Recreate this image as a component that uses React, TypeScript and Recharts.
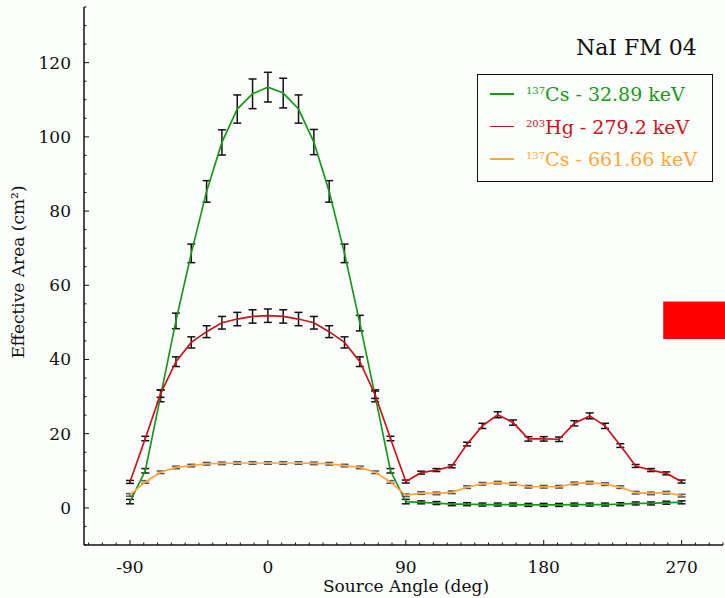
import React from 'react'
import {
  LineChart,
  Line,
  XAxis,
  YAxis,
  ErrorBar,
  ReferenceArea,
} from 'recharts'

// source angle (deg), one point every 10 deg
const angles = [
  -90, -80, -70, -60, -50, -40, -30, -20, -10, 0, 10, 20, 30, 40, 50, 60, 70, 80, 90,
  100, 110, 120, 130, 140, 150, 160, 170, 180, 190, 200, 210, 220, 230, 240, 250, 260, 270,
]

// 137Cs - 32.89 keV
const cs32 = [
  1.7, 10.0, 30.2, 50.4, 68.6, 85.3, 98.5, 107.5, 111.6, 113.4, 111.8, 107.5, 98.6, 85.3, 68.6, 49.8, 30.2, 10.0, 1.7,
  1.5, 1.3, 1.0, 1.0, 0.9, 0.9, 0.9, 0.8, 0.8, 0.8, 0.9, 0.9, 0.9, 1.0, 1.2, 1.2, 1.4, 1.5,
]
const cs32Err = [
  0.6, 0.6, 1.6, 2.1, 2.5, 2.9, 3.4, 3.8, 4.0, 4.0, 4.0, 3.8, 3.4, 2.9, 2.5, 2.1, 1.6, 0.6, 0.6,
  0.4, 0.4, 0.4, 0.4, 0.4, 0.4, 0.4, 0.4, 0.4, 0.4, 0.4, 0.4, 0.4, 0.4, 0.4, 0.4, 0.4, 0.4,
]

// 203Hg - 279.2 keV
const hg279 = [
  7.0, 18.7, 30.8, 39.4, 44.6, 47.5, 49.9, 50.9, 51.6, 51.8, 51.6, 50.9, 49.9, 47.5, 44.6, 39.4, 30.5, 18.7, 7.1,
  9.5, 10.2, 11.2, 17.2, 22.1, 25.1, 23.0, 18.6, 18.6, 18.5, 22.8, 24.8, 22.1, 16.8, 11.3, 10.2, 9.3, 7.1,
]
const hg279Err = [
  0.4, 0.6, 1.0, 1.3, 1.5, 1.6, 1.7, 1.8, 1.8, 1.8, 1.8, 1.8, 1.7, 1.6, 1.5, 1.3, 1.0, 0.6, 0.4,
  0.4, 0.4, 0.4, 0.5, 0.7, 0.8, 0.7, 0.6, 0.6, 0.6, 0.7, 0.8, 0.7, 0.5, 0.4, 0.4, 0.4, 0.4,
]

// 137Cs - 661.66 keV
const cs661 = [
  3.5, 7.0, 9.6, 10.9, 11.4, 11.9, 12.0, 12.1, 12.1, 12.1, 12.1, 12.1, 12.0, 11.9, 11.4, 10.9, 9.6, 7.0, 3.4,
  4.0, 3.9, 4.2, 5.6, 6.5, 6.8, 6.5, 5.7, 5.7, 5.7, 6.6, 6.8, 6.4, 5.6, 4.1, 3.9, 4.1, 3.3,
]
const cs661Err = [
  0.35, 0.35, 0.35, 0.35, 0.35, 0.35, 0.35, 0.35, 0.35, 0.35, 0.35, 0.35, 0.35, 0.35, 0.35, 0.35, 0.35, 0.35, 0.35,
  0.35, 0.35, 0.35, 0.35, 0.35, 0.35, 0.35, 0.35, 0.35, 0.35, 0.35, 0.35, 0.35, 0.35, 0.35, 0.35, 0.35, 0.35,
]

const xMajor = [-90, 0, 90, 180, 270]
const yMajor = [0, 20, 40, 60, 80, 100, 120]

const legendIso = ['137', '203', '137']
const legendEl = ['Cs', 'Hg', 'Cs']
const legendEnergy = ['32.89 keV', '279.2 keV', '661.66 keV']
const colors = ['#1c961c', '#c8141c', '#ffa53f']

const xTicks = Array.from({ length: 47 }, (_, i) => -117 + i * 9)
const yTicks = Array.from({ length: 30 }, (_, i) => -10 + i * 5)

const data = angles.map((a, i) => ({
  angle: a,
  cs32: cs32[i],
  cs32Err: cs32Err[i],
  hg279: hg279[i],
  hg279Err: hg279Err[i],
  cs661: cs661[i],
  cs661Err: cs661Err[i],
}))

const FONT = "'DejaVu Serif', serif"

const BottomTick = (props: any) => {
  const { x, y, payload } = props
  const major = xMajor.includes(payload.value)
  return (
    <g>
      <line x1={x} x2={x} y1={y} y2={y - (major ? 5 : 2.5)} stroke="#111" strokeWidth={1} />
      {major && (
        <text x={x} y={y + 28} textAnchor="middle" fontFamily={FONT} fontSize={17} fill="#111">
          {payload.value}
        </text>
      )}
    </g>
  )
}

const TopTick = (props: any) => {
  const { x, y, payload } = props
  const major = xMajor.includes(payload.value)
  return <line x1={x} x2={x} y1={y} y2={y + (major ? 5 : 2.5)} stroke="#111" strokeWidth={1} />
}

const LeftTick = (props: any) => {
  const { x, y, payload } = props
  const major = yMajor.includes(payload.value)
  return (
    <g>
      <line x1={x} x2={x + (major ? 5 : 2.5)} y1={y} y2={y} stroke="#111" strokeWidth={1} />
      {major && (
        <text x={x - 13} y={y + 6} textAnchor="end" fontFamily={FONT} fontSize={17} fill="#111">
          {payload.value}
        </text>
      )}
    </g>
  )
}

const RightTick = (props: any) => {
  const { x, y } = props
  return <line x1={x} x2={x - 5} y1={y} y2={y} stroke="#111" strokeWidth={1} />
}

const LegendBox = () => (
  <div
    style={{
      position: 'absolute',
      left: 477,
      top: 74,
      width: 236,
      height: 108,
      border: '1.5px solid #111',
      boxSizing: 'border-box',
      background: '#fcfefc',
      fontFamily: FONT,
    }}
  >
    {legendEl.map((el, i) => (
      <div
        key={i}
        style={{
          position: 'absolute',
          left: 0,
          top: 7 + i * 32.5,
          height: 24,
          display: 'flex',
          alignItems: 'center',
          whiteSpace: 'nowrap',
          color: colors[i],
        }}
      >
        <span style={{ display: 'inline-block', marginLeft: 12, width: 24, height: 1.3, background: colors[i] }} />
        <span style={{ marginLeft: 12, fontSize: 19 }}>
          <sup style={{ fontSize: 10, verticalAlign: 7 }}>{legendIso[i]}</sup>
          {el} - {legendEnergy[i]}
        </span>
      </div>
    ))}
  </div>
)

export default function App() {
  return (
    <div
      style={{
        position: 'absolute',
        left: 0,
        top: 0,
        width: 725,
        height: 598,
        background: '#fcfefc',
        overflow: 'hidden',
      }}
    >
      <LineChart width={725} height={598} data={data} margin={{ top: 7, right: 2, left: 0, bottom: 0 }}>
        <XAxis
          xAxisId="b"
          dataKey="angle"
          type="number"
          domain={[-120, 297]}
          ticks={xTicks}
          interval={0}
          allowDataOverflow
          height={53}
          tickSize={0}
          tickMargin={0}
          tick={<BottomTick />}
          axisLine={{ stroke: '#111', strokeWidth: 1.5 }}
        />
        <XAxis
          xAxisId="t"
          orientation="top"
          dataKey="angle"
          type="number"
          domain={[-120, 297]}
          ticks={xTicks}
          interval={0}
          allowDataOverflow
          height={0}
          tickSize={0}
          tickMargin={0}
          tick={<TopTick />}
          axisLine={{ stroke: '#111', strokeWidth: 1.5 }}
        />
        <YAxis
          yAxisId="l"
          type="number"
          domain={[-10, 135]}
          ticks={yTicks}
          interval={0}
          allowDataOverflow
          width={84}
          tickSize={0}
          tickMargin={0}
          tick={<LeftTick />}
          axisLine={{ stroke: '#111', strokeWidth: 1.5 }}
        />
        <YAxis
          yAxisId="r"
          orientation="right"
          type="number"
          domain={[-10, 135]}
          ticks={yMajor}
          interval={0}
          allowDataOverflow
          width={0}
          tickSize={0}
          tickMargin={0}
          tick={<RightTick />}
          axisLine={{ stroke: '#111', strokeWidth: 1.5 }}
        />
        <ReferenceArea
          xAxisId="b"
          yAxisId="l"
          x1={258}
          x2={300}
          y1={45.5}
          y2={55.6}
          fill="#ff0000"
          fillOpacity={1}
          stroke="none"
          ifOverflow="visible"
        />
        <Line
          xAxisId="b"
          yAxisId="l"
          type="linear"
          dataKey="cs32"
          name="137Cs - 32.89 keV"
          stroke={colors[0]}
          strokeWidth={1.7}
          dot={false}
          isAnimationActive={false}
        >
          <ErrorBar dataKey="cs32Err" width={4} stroke="#111" strokeWidth={1.5} direction="y" isAnimationActive={false} />
        </Line>
        <Line
          xAxisId="b"
          yAxisId="l"
          type="linear"
          dataKey="hg279"
          name="203Hg - 279.2 keV"
          stroke={colors[1]}
          strokeWidth={1.7}
          dot={false}
          isAnimationActive={false}
        >
          <ErrorBar dataKey="hg279Err" width={4} stroke="#111" strokeWidth={1.5} direction="y" isAnimationActive={false} />
        </Line>
        <Line
          xAxisId="b"
          yAxisId="l"
          type="linear"
          dataKey="cs661"
          name="137Cs - 661.66 keV"
          stroke={colors[2]}
          strokeWidth={1.7}
          dot={false}
          isAnimationActive={false}
        >
          <ErrorBar dataKey="cs661Err" width={4} stroke="#555" strokeWidth={1.5} direction="y" isAnimationActive={false} />
        </Line>
      </LineChart>

      <div
        style={{
          position: 'absolute',
          left: 576,
          top: 37,
          fontFamily: FONT,
          fontSize: 22,
          lineHeight: '22px',
          color: '#111',
          whiteSpace: 'nowrap',
        }}
      >
        NaI FM 04
      </div>

      <LegendBox />

      <div
        style={{
          position: 'absolute',
          left: 18,
          top: 272,
          transform: 'translate(-50%, -50%) rotate(-90deg)',
          fontFamily: FONT,
          fontSize: 17,
          color: '#111',
          whiteSpace: 'nowrap',
        }}
      >
        Effective Area (cm²)
      </div>

      <div
        style={{
          position: 'absolute',
          left: 406,
          top: 586,
          transform: 'translate(-50%, -50%)',
          fontFamily: FONT,
          fontSize: 17,
          color: '#111',
          whiteSpace: 'nowrap',
        }}
      >
        Source Angle (deg)
      </div>
    </div>
  )
}
